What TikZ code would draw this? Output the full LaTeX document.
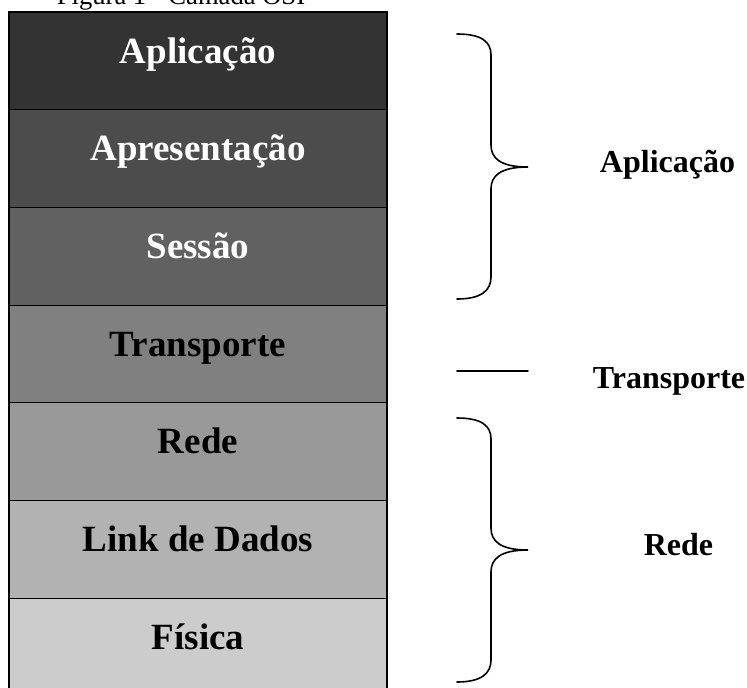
\documentclass[tikz,border=0pt]{standalone}
\usepackage{fontspec}
\setmainfont{Liberation Serif}
\usepackage{tikz}
\usetikzlibrary{positioning}
\tikzstyle{layer} = [rectangle, draw=black, line width=1.2pt, outer sep=0pt, inner sep=0pt, minimum width=378pt, minimum height=97.7pt, text height=26pt, text depth=21.7pt, font=\fontsize{37}{40}\selectfont\bfseries]
\tikzstyle{group} = [anchor=base, font=\fontsize{32}{36}\selectfont\bfseries]
\tikzstyle{brace} = [line width=1.6pt, line cap=round]

\begin{document}
\begin{tikzpicture}[x=1pt, y=-1pt, node distance=0pt]
    \useasboundingbox (0,0) rectangle (747,688);

    % Title (cut at the top)
    \node (title) at (181,5) [anchor=base, font=\fontsize{26.6}{30}\selectfont] {Figura 1 - Camada OSI};

    % OSI layers
    \node (app) at (9,12) [layer, anchor=north west, fill=black!80, text=white] {Aplicação};
    \node (pres) [layer, below=of app, fill=black!70, text=white] {Apresentação};
    \node (sess) [layer, below=of pres, fill=black!62, text=white] {Sessão};
    \node (trans) [layer, below=of sess, fill=black!50] {Transporte};
    \node (net) [layer, below=of trans, fill=black!40] {Rede};
    \node (link) [layer, below=of net, fill=black!30] {Link de Dados};
    \node (phys) [layer, below=of link, fill=black!20] {Física};

    % Outer frame
    \draw [line width=2.6pt] (app.north west) rectangle (phys.south east);

    % Braces
    \draw [brace] (457,34) .. controls (482,34) and (491,42) .. (491,55) -- (491,145)
        .. controls (491,158) and (500,167) .. (528,167)
        .. controls (500,167) and (491,176) .. (491,189) -- (491,277)
        .. controls (491,290) and (482,299) .. (457,299);
    \draw [brace] (457,371) -- (528,371);
    \draw [brace] (457,418) .. controls (482,418) and (491,426) .. (491,439) -- (491,528)
        .. controls (491,541) and (500,550) .. (528,550)
        .. controls (500,550) and (491,559) .. (491,572) -- (491,660)
        .. controls (491,673) and (482,682) .. (457,682);

    % Groups
    \node (gapp) at (667.5,172) [group] {Aplicação};
    \node (gtrans) at (669,388) [group] {Transporte};
    \node (gnet) at (678.5,555) [group] {Rede};
\end{tikzpicture}
\end{document}
